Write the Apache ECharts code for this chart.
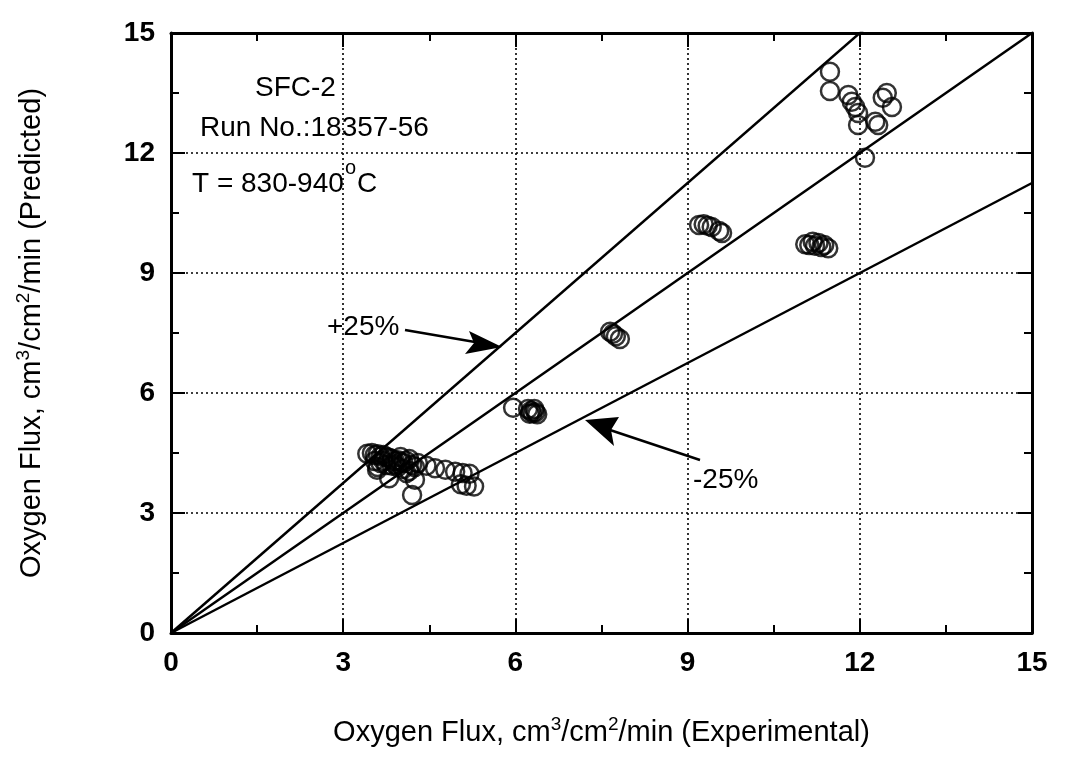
<!DOCTYPE html>
<html>
<head>
<meta charset="utf-8">
<script src="https://cdn.jsdelivr.net/npm/echarts@6/dist/echarts.min.js"></script>
<style>html,body{margin:0;padding:0;background:#fff}#c{width:1066px;height:777px}</style>
</head>
<body>
<div id="c"></div>
<script>
// Tick values
const ticks = [0, 3, 6, 9, 12, 15];
// Reference line ratios (predicted / experimental)
const ratios = [1.25, 1.0, 0.75];
const axisMax = 15;

// Experimental vs predicted oxygen flux points
const clusterA = [
  [3.42,4.48],[3.5,4.5],[3.55,4.45],[3.6,4.47],[3.65,4.42],[3.7,4.45],[3.75,4.4],[3.8,4.38],
  [3.85,4.35],[3.9,4.3],[3.95,4.32],[4.0,4.28],[4.05,4.25],[4.1,4.3],[4.15,4.35],[4.2,4.2],
  [4.25,4.15],[3.55,4.3],[3.65,4.25],[3.75,4.2],[3.85,4.18],[3.95,4.15],[4.05,4.1],[4.15,4.05],
  [3.6,4.15],[3.9,4.22],[4.1,4.0],[4.3,4.25],[3.7,4.3],[4.0,4.4],
  [3.8,3.87],[4.25,3.83],[4.2,3.45],[3.59,4.08],
  [4.45,4.18],[4.6,4.12],[4.78,4.08],[4.95,4.03],[5.08,4.0],[5.2,3.98],[5.05,3.72],[5.15,3.68],[5.28,3.66]
];
const clusterB = [[5.96,5.63],[6.22,5.6],[6.27,5.55],[6.3,5.5],[6.35,5.52],[6.38,5.47],[6.33,5.6],[6.25,5.48]];
const clusterC = [[7.65,7.53],[7.7,7.48],[7.75,7.42],[7.82,7.35]];
const clusterD = [[9.2,10.2],[9.28,10.22],[9.35,10.18],[9.42,10.15],[9.55,10.05],[9.6,10.0]];
const clusterE = [[11.05,9.72],[11.12,9.7],[11.18,9.78],[11.22,9.68],[11.28,9.75],[11.33,9.65],[11.38,9.7],[11.45,9.62]];
const clusterF = [[11.48,14.03],[11.48,13.55],[11.8,13.45],[11.86,13.28],[11.92,13.15],[11.97,13.0],[11.97,12.7],
  [12.27,12.78],[12.32,12.7],[12.09,11.88],[12.47,13.5],[12.4,13.38],[12.56,13.15]];

const points = [].concat(clusterA, clusterB, clusterC, clusterD, clusterE, clusterF);

const FONT = '"Liberation Sans", Arial, Helvetica, sans-serif';
const chart = echarts.init(document.getElementById('c'));

function axisCommon(showLabel) {
  return {
    type: 'value', min: 0, max: axisMax, interval: 3,
    axisLine: { show: true, onZero: false, lineStyle: { color: '#000', width: 3 } },
    axisTick: { show: true, inside: true, length: 14, lineStyle: { color: '#000', width: 2 } },
    minorTick: { show: true, splitNumber: 2, length: 8, lineStyle: { color: '#000', width: 2 } },
    axisLabel: { show: showLabel, color: '#000', fontSize: 28, fontFamily: FONT, fontWeight: 'bold', margin: 16 },
    splitLine: { show: showLabel, lineStyle: { color: '#000', width: 1.6, type: [2, 3] } }
  };
}

const lineSeries = ratios.map(r => ({
  type: 'line', xAxisIndex: 0, yAxisIndex: 0, symbol: 'none', silent: true, clip: true,
  lineStyle: { color: '#000', width: 2.5 },
  data: [[0, 0], [axisMax, axisMax * r]]
}));

const supRich = {
  t: { fontSize: 29, fontFamily: FONT, color: '#000' },
  s: { fontSize: 19, fontFamily: FONT, color: '#000', padding: [0, 0, 16, 0] }
};

const TXT = '28px ' + FONT;
chart.setOption({
  animation: false,
  grid: { left: 171, right: 34, top: 33, bottom: 144, containLabel: false },
  xAxis: [
    Object.assign(axisCommon(true), {
      position: 'bottom',
      name: '{t|Oxygen Flux, cm}{s|3}{t|/cm}{s|2}{t|/min (Experimental)}',
      nameLocation: 'middle', nameGap: 82,
      nameTextStyle: { rich: supRich }
    }),
    Object.assign(axisCommon(false), { position: 'top' })
  ],
  yAxis: [
    Object.assign(axisCommon(true), {
      position: 'left',
      name: '{t|Oxygen Flux, cm}{s|3}{t|/cm}{s|2}{t|/min (Predicted)}',
      nameLocation: 'middle', nameGap: 122,
      nameTextStyle: { rich: supRich }
    }),
    Object.assign(axisCommon(false), { position: 'right' })
  ],
  series: lineSeries.concat([{
    type: 'scatter', xAxisIndex: 0, yAxisIndex: 0,
    symbol: 'circle', symbolSize: 18,
    itemStyle: { color: 'rgba(0,0,0,0)', borderColor: '#000', borderWidth: 2.5 },
    data: points
  }]),
  graphic: [
    { type: 'text', left: 255, top: 74, style: { text: 'SFC-2', font: TXT, fill: '#000' } },
    { type: 'text', left: 200, top: 114, style: { text: 'Run No.:18357-56', font: TXT, fill: '#000' } },
    { type: 'text', left: 192, top: 170, style: { text: 'T = 830-940', font: TXT, fill: '#000' } },
    { type: 'text', left: 345, top: 158, style: { text: 'o', font: '20px ' + FONT, fill: '#000' } },
    { type: 'text', left: 357, top: 170, style: { text: 'C', font: TXT, fill: '#000' } },
    { type: 'text', left: 327, top: 313, style: { text: '+25%', font: TXT, fill: '#000' } },
    { type: 'line', shape: { x1: 405, y1: 330, x2: 475, y2: 342 }, style: { stroke: '#000', lineWidth: 2.5 } },
    { type: 'polygon', shape: { points: [[502, 347], [469, 331], [474, 343], [465, 354]] }, style: { fill: '#000' } },
    { type: 'text', left: 693, top: 466, style: { text: '-25%', font: TXT, fill: '#000' } },
    { type: 'line', shape: { x1: 700, y1: 460, x2: 610, y2: 430 }, style: { stroke: '#000', lineWidth: 2.5 } },
    { type: 'polygon', shape: { points: [[585, 420], [619, 417], [611, 430], [614, 446]] }, style: { fill: '#000' } }
  ]
});
</script>
</body>
</html>
